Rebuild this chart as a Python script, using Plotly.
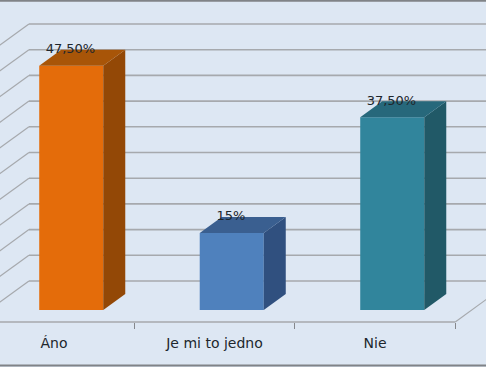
import plotly.graph_objects as go

# Data
categories = ["Áno", "Je mi to jedno", "Nie"]
values = [47.5, 15, 37.5]
value_labels = ["47,50%", "15%", "37,50%"]
grid_values = [5, 10, 15, 20, 25, 30, 35, 40, 45, 50, 55]
divider_positions = [0.5, 1.5, 2.5]

# Styling
front_colors = ["#E46C0A", "#4F81BD", "#31859C"]
side_colors = ["#934806", "#30507F", "#215967"]
top_colors = ["#A85508", "#3A5F90", "#27687B"]
BG = "#DDE7F3"
GRID = "#A6A9AD"
TEXT = "#20262C"
FONT = "DejaVu Sans"

# Chart geometry in axis units
X_RANGE = [-0.3364, 2.6916]
Y_RANGE = [-11.09, 60.31]
BAR_SHIFT = 0.1075
BAR_WIDTH = 0.399
DEPTH_X = 0.137
DEPTH_Y = 3.11
WALL_LIFT = 0.64
WALL_LEFT = -0.156
AXIS_Y = -2.33
LABEL_RAISE = 3.1

bar_x = [i + BAR_SHIFT for i in range(len(categories))]

fig = go.Figure()
fig.add_trace(go.Bar(x=bar_x, y=values, width=BAR_WIDTH,
                     marker=dict(color=front_colors, line=dict(width=0)),
                     hoverinfo="skip"))

for cx, v, side, top in zip(bar_x, values, side_colors, top_colors):
    l, r = cx - BAR_WIDTH / 2, cx + BAR_WIDTH / 2
    fig.add_trace(go.Scatter(
        x=[r, r + DEPTH_X, r + DEPTH_X, r, r],
        y=[0, DEPTH_Y, v + DEPTH_Y, v, 0],
        mode="lines", fill="toself", fillcolor=side, line=dict(width=0),
        hoverinfo="skip"))
    fig.add_trace(go.Scatter(
        x=[l, r, r + DEPTH_X, l + DEPTH_X, l],
        y=[v, v, v + DEPTH_Y, v + DEPTH_Y, v],
        mode="lines", fill="toself", fillcolor=top, line=dict(width=0),
        hoverinfo="skip"))

fig.add_trace(go.Scatter(
    x=[c - 0.005 for c in bar_x], y=[v + LABEL_RAISE for v in values], text=value_labels,
    mode="text", textposition="middle center",
    textfont=dict(family=FONT, size=13, color=TEXT), hoverinfo="skip"))

shapes = []
for g in grid_values:
    y = g + WALL_LIFT
    shapes.append(dict(type="line", layer="below", xref="x", yref="y",
                       x0=WALL_LEFT, x1=X_RANGE[1], y0=y, y1=y,
                       line=dict(color=GRID, width=1.6)))
    shapes.append(dict(type="line", layer="below", xref="x", yref="y",
                       x0=WALL_LEFT, x1=WALL_LEFT - 2 * DEPTH_X,
                       y0=y, y1=y - 2 * DEPTH_Y,
                       line=dict(color=GRID, width=1.2)))
# front floor edge and right floor edge
shapes.append(dict(type="line", layer="below", xref="x", yref="y",
                   x0=X_RANGE[0], x1=divider_positions[-1], y0=AXIS_Y, y1=AXIS_Y,
                   line=dict(color=GRID, width=1.6)))
shapes.append(dict(type="line", layer="below", xref="x", yref="y",
                   x0=divider_positions[-1], x1=divider_positions[-1] + 2 * DEPTH_X,
                   y0=AXIS_Y, y1=AXIS_Y + 2 * DEPTH_Y,
                   line=dict(color=GRID, width=1.2)))
# picture frame
for py in (0.998, 0.004):
    shapes.append(dict(type="line", xref="paper", yref="paper", x0=0, x1=1,
                       y0=py, y1=py, line=dict(color="#808387", width=2)))

fig.update_layout(
    width=486, height=367, autosize=False,
    margin=dict(l=0, r=0, t=0, b=0),
    paper_bgcolor=BG, plot_bgcolor=BG, showlegend=False, shapes=shapes,
    xaxis=dict(range=X_RANGE, tickmode="array", tickvals=[0, 1, 2],
               ticktext=categories, ticks="", showgrid=False, zeroline=False,
               showline=False, anchor="free", position=(367 - 322) / 367,
               ticklabelstandoff=11,
               tickfont=dict(family=FONT, size=14, color=TEXT),
               minor=dict(tickmode="array", tickvals=divider_positions,
                          ticks="outside", ticklen=6, tickwidth=1,
                          tickcolor="#85888C", showgrid=False)),
    yaxis=dict(range=Y_RANGE, visible=False, domain=[0, 1]),
)
fig.write_html("out.html", config={"displayModeBar": False},
               post_script="document.body.style.margin='0';document.body.style.overflow='hidden';")
